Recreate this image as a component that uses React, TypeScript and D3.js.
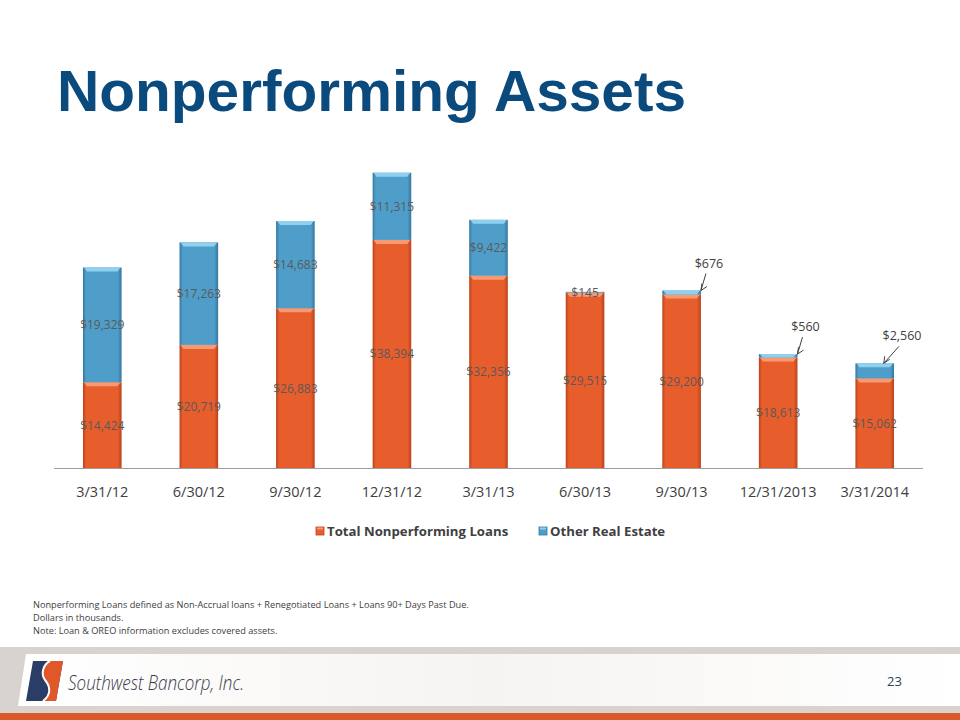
import * as d3 from 'd3';
import { FC } from 'react';

const categories = ['3/31/12', '6/30/12', '9/30/12', '12/31/12', '3/31/13', '6/30/13', '9/30/13', '12/31/2013', '3/31/2014'];
const loans = [14424, 20719, 26883, 38394, 32356, 29515, 29200, 18613, 15062];
const otherRealEstate = [19329, 17263, 14683, 11315, 9422, 145, 676, 560, 2560];
const seriesNames = ['Total Nonperforming Loans', 'Other Real Estate'];
const footnotes = [
  'Nonperforming Loans defined as Non-Accrual loans + Renegotiated Loans + Loans 90+ Days Past Due.',
  'Dollars in thousands.',
  'Note: Loan & OREO information excludes covered assets.',
];

const fmt = (v: number) => '$' + d3.format(',')(v);

const W = 960;
const H = 720;
const LABEL_FONT = "'Open Sans', 'Liberation Sans', sans-serif";

const App: FC = () => {
  const x = d3.scaleBand<string>().domain(categories).range([54, 923]).paddingInner(0.6).paddingOuter(0.3);
  const y = d3.scaleLinear().domain([0, 50000]).range([468, 171]);
  const bw = x.bandwidth();

  const colors = [
    { base: '#e85d2c', edge: '#b9431c', top: '#f79a72' },
    { base: '#4f9ec9', edge: '#3577a0', top: '#8fd0ef' },
  ];

  const seg = (i: number) => {
    const c = categories[i];
    const x0 = x(c) || 0;
    const l = loans[i];
    const o = otherRealEstate[i];
    return [
      { x0, y0: y(l), y1: y(0), v: l, s: 0 },
      { x0, y0: y(l + o), y1: y(l), v: o, s: 1 },
    ];
  };

  return (
    <svg width={W} height={H} style={{ position: 'absolute', left: 0, top: 0 }}>
      <defs>
        {colors.map((c, i) => (
          <linearGradient key={i} id={`g${i}`} x1="0" x2="1" y1="0" y2="0">
            <stop offset="0" stopColor={c.edge} />
            <stop offset="0.08" stopColor={c.base} />
            <stop offset="0.9" stopColor={c.base} />
            <stop offset="1" stopColor={c.edge} />
          </linearGradient>
        ))}
        <linearGradient id="footerPanel" x1="0" x2="1" y1="0" y2="0">
          <stop offset="0" stopColor="#ffffff" />
          <stop offset="0.5" stopColor="#f6f4f2" />
          <stop offset="1" stopColor="#ffffff" />
        </linearGradient>
      </defs>
      <rect width={W} height={H} fill="#ffffff" />

      <text x={57} y={111} fontFamily="'Liberation Sans', Arial, sans-serif" fontWeight="bold" fontSize={58}
        fill="#0b4a7d" textLength={629} lengthAdjust="spacingAndGlyphs">
        Nonperforming Assets
      </text>

      {/* bars */}
      {categories.map((c, i) =>
        seg(i).map((s) => {
          const h = s.y1 - s.y0;
          const col = colors[s.s];
          return (
            <g key={`${c}-${s.s}`}>
              <rect x={s.x0} y={s.y0} width={bw} height={h} fill={`url(#g${s.s})`} />
              {h > 3 && (
                <path
                  d={`M${s.x0 + 1},${s.y0} L${s.x0 + bw - 1},${s.y0} L${s.x0 + bw - 4},${s.y0 + Math.min(4, h)} L${s.x0 + 4},${s.y0 + Math.min(4, h)} Z`}
                  fill={col.top}
                />
              )}
            </g>
          );
        })
      )}

      {/* axis */}
      <line x1={54} x2={923} y1={y(0) + 0.5} y2={y(0) + 0.5} stroke="#a0a0a0" strokeWidth={1} />
      {categories.map((c) => (
        <text key={c} x={(x(c) || 0) + bw / 2} y={497} textAnchor="middle" fontFamily={LABEL_FONT}
          fontSize={14.5} fill="#404040">
          {c}
        </text>
      ))}

      {/* data labels */}
      {categories.map((c, i) =>
        seg(i).map((s) => {
          const cx = s.x0 + bw / 2;
          if (s.s === 1 && i >= 6) {
            const top = s.y0;
            const tx = cx + bw / 2 + 8;
            const ty = top - 27;
            const ax = i === 8 ? cx + 9 : cx + bw / 2;
            return (
              <g key={`l-${c}-${s.s}`}>
                <text x={tx} y={ty + 4} textAnchor="middle" fontFamily={LABEL_FONT} fontSize={12.5} fill="#404040">
                  {fmt(s.v)}
                </text>
                <line x1={tx - 3} y1={ty + 10} x2={ax} y2={top} stroke="#404040" strokeWidth={1} />
                <path d={`M${ax},${top} l1,-7 M${ax},${top} l6,-4`} stroke="#404040" strokeWidth={1} fill="none" />
              </g>
            );
          }
          return (
            <text key={`l-${c}-${s.s}`} x={cx} y={(s.y0 + s.y1) / 2 + 4.5} textAnchor="middle" fontFamily={LABEL_FONT}
              fontSize={12} fill="#5a5a5a">
              {fmt(s.v)}
            </text>
          );
        })
      )}

      {/* legend */}
      {seriesNames.map((n, i) => {
        const lx = i === 0 ? 316 : 539;
        return (
          <g key={n}>
            <rect x={lx} y={527} width={8} height={8} fill={colors[i].base} stroke={colors[i].edge} strokeWidth={0.8} />
            <rect x={lx + 1} y={527.5} width={6} height={2} fill={colors[i].top} />
            <text x={lx + 11} y={536} fontFamily={LABEL_FONT} fontWeight="bold" fontSize={13.2} fill="#404040">
              {n}
            </text>
          </g>
        );
      })}

      {/* footnotes */}
      {footnotes.map((f, i) => (
        <text key={i} x={33} y={608 + i * 13} fontFamily={LABEL_FONT} fontSize={9.2} fill="#404040">
          {f}
        </text>
      ))}

      {/* footer */}
      <rect x={0} y={647} width={W} height={67} fill="#d8d3cf" />
      <path d="M26,654 L960,654 L960,706 L18,706 Z" fill="url(#footerPanel)" />
      <rect x={0} y={713} width={W} height={7} fill="#d9592b" />
      <path d="M33,661 L63,661 L56,701 L26,701 Z" fill="#2a3d66" />
      <path d="M50,661 L63,661 L56,701 L43,701 C52,694 50,686 45,680 C40,673 44,664 50,661 Z" fill="#e0582a" />
      <path d="M50,661 C44,664 40,673 45,680 C50,686 52,694 43,701" stroke="#ffffff" strokeWidth={2} fill="none" />
      <text x={68} y={690} fontFamily="'Open Sans', sans-serif" fontStyle="italic" fontWeight={300} fontSize={21}
        fill="#3a3a4c" textLength={176} lengthAdjust="spacingAndGlyphs">
        Southwest Bancorp, Inc.
      </text>
      <text x={887} y={686} fontFamily={LABEL_FONT} fontSize={13} fill="#2b3f5c">
        23
      </text>
    </svg>
  );
};

export default App;
